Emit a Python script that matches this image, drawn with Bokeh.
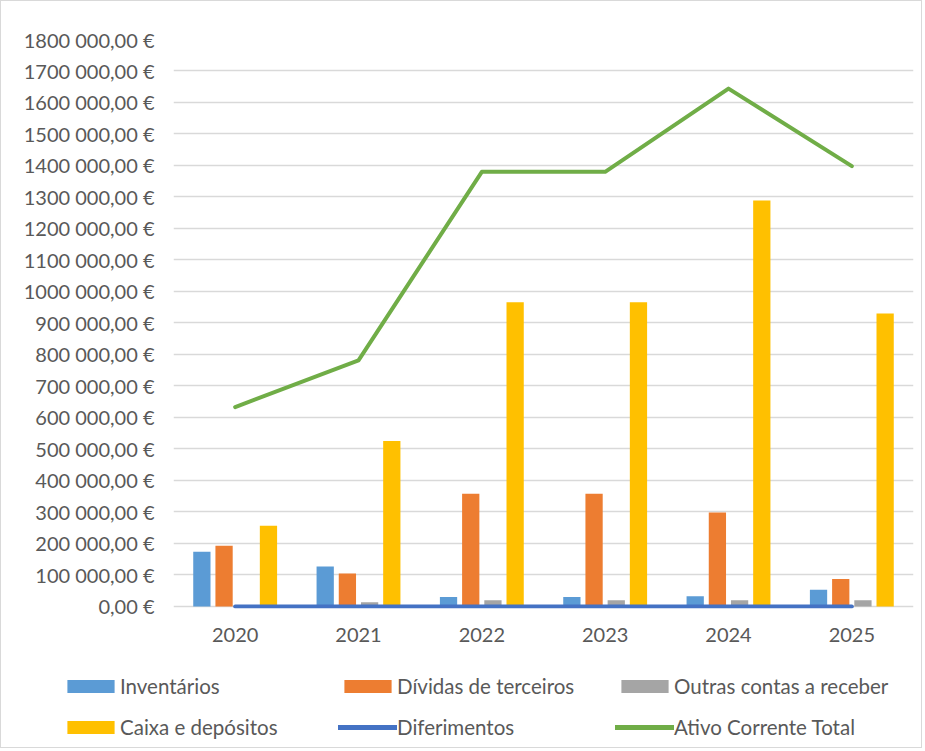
from bokeh.plotting import figure
from bokeh.layouts import column, row
from bokeh.models import FixedTicker, Legend, LegendItem, ColumnDataSource, FactorRange, Range1d
from bokeh.transform import dodge
from bokeh.embed import file_html
from bokeh.resources import INLINE

years = ["2020", "2021", "2022", "2023", "2024", "2025"]
inventarios = [174000, 127000, 30000, 30000, 32000, 53000]
dividas = [193000, 105000, 358000, 358000, 298000, 87000]
outras = [0, 13000, 20000, 20000, 20000, 20000]
caixa = [256000, 525000, 966000, 966000, 1289000, 930000]
diferimentos = [0, 0, 0, 0, 0, 0]
ativo_total = [633000, 781000, 1380000, 1380000, 1644000, 1398000]

y_ticks = [0, 100000, 200000, 300000, 400000, 500000, 600000, 700000, 800000, 900000,
           1000000, 1100000, 1200000, 1300000, 1400000, 1500000, 1600000, 1700000, 1800000]
y_tick_labels = ["0,00 €", "100 000,00 €", "200 000,00 €", "300 000,00 €", "400 000,00 €",
                 "500 000,00 €", "600 000,00 €", "700 000,00 €", "800 000,00 €", "900 000,00 €",
                 "1000 000,00 €", "1100 000,00 €", "1200 000,00 €", "1300 000,00 €",
                 "1400 000,00 €", "1500 000,00 €", "1600 000,00 €", "1700 000,00 €",
                 "1800 000,00 €"]

series_names = ["Inventários", "Dívidas de terceiros", "Outras contas a receber",
                "Caixa e depósitos", "Diferimentos", "Ativo Corrente Total"]
series_cols = ["inventarios", "dividas", "outras", "caixa", "diferimentos", "ativo_total"]
colors = ["#5B9BD5", "#ED7D31", "#A5A5A5", "#FFC000", "#4472C4", "#70AD47"]

source = ColumnDataSource(dict(years=years, inventarios=inventarios, dividas=dividas,
                               outras=outras, caixa=caixa, diferimentos=diferimentos,
                               ativo_total=ativo_total))

FONT = "Lato"
TXT = "#595959"

p = figure(x_range=years, y_range=(-6500, 1800000), width=920, height=652,
           output_backend="svg", toolbar_location=None,
           min_border_left=172, min_border_right=8, min_border_top=38, min_border_bottom=45)
p.outline_line_color = None

bw = 0.14
offsets = [-0.27, -0.09, 0.09, 0.27]
for c, off, col in zip(series_cols[:4], offsets, colors[:4]):
    p.vbar(x=dodge("years", off, range=p.x_range), top=c, width=bw,
           source=source, fill_color=col, line_color=None)
p.line(x="years", y="diferimentos", source=source, line_color=colors[4],
       line_width=4, line_cap="round", line_join="round")
p.line(x="years", y="ativo_total", source=source, line_color=colors[5],
       line_width=4, line_cap="round", line_join="round")

p.yaxis.ticker = FixedTicker(ticks=y_ticks)
p.yaxis.major_label_overrides = {t: l for t, l in zip(y_ticks, y_tick_labels)}
p.yaxis.axis_line_color = None
p.yaxis.major_tick_line_color = None
p.yaxis.minor_tick_line_color = None
p.yaxis.major_tick_out = 0
p.yaxis.major_label_standoff = 19
p.yaxis.major_label_text_font = FONT
p.yaxis.major_label_text_font_size = "20px"
p.yaxis.major_label_text_color = TXT

p.xaxis.axis_line_color = None
p.xaxis.major_tick_line_color = None
p.xaxis.major_tick_out = 0
p.xaxis.major_label_standoff = 19
p.xaxis.major_label_text_font = FONT
p.xaxis.major_label_text_font_size = "20px"
p.xaxis.major_label_text_color = TXT

p.xgrid.grid_line_color = None
p.ygrid.grid_line_color = "#D9D9D9"
p.ygrid.grid_line_width = 1.3
p.x_range.range_padding = 0

# legend panel: same series drawn out of view, used only as legend glyph sources
pl = figure(width=920, height=94, x_range=FactorRange(*years), y_range=Range1d(1e8, 1.1e8),
            output_backend="svg", toolbar_location=None,
            x_axis_type=None, y_axis_type=None, min_border=0)
pl.outline_line_color = None
pl.xgrid.grid_line_color = None
pl.ygrid.grid_line_color = None
items = []
for name, c, col in zip(series_names[:4], series_cols[:4], colors[:4]):
    r = pl.vbar(x="years", top=c, width=0.1, source=source, fill_color=col, line_color=None)
    items.append(LegendItem(label=name, renderers=[r]))
for name, c, col in zip(series_names[4:], series_cols[4:], colors[4:]):
    r = pl.line(x="years", y=c, source=source, line_color=col, line_width=5, line_cap="round")
    items.append(LegendItem(label=name, renderers=[r]))

legend = Legend(items=items, location=(60, 0), orientation="horizontal", ncols=3,
                glyph_width=59, glyph_height=16, label_standoff=0, label_width=218,
                label_height=41, spacing=0, padding=0, margin=0,
                border_line_color=None, background_fill_alpha=0,
                label_text_font=FONT, label_text_font_size="20.5px", label_text_color=TXT)
pl.add_layout(legend, "center")

layout = column(p, row(pl), spacing=0, styles={"border": "1px solid #D9D9D9"})

open("out.html", "w").write(file_html(layout, INLINE))
